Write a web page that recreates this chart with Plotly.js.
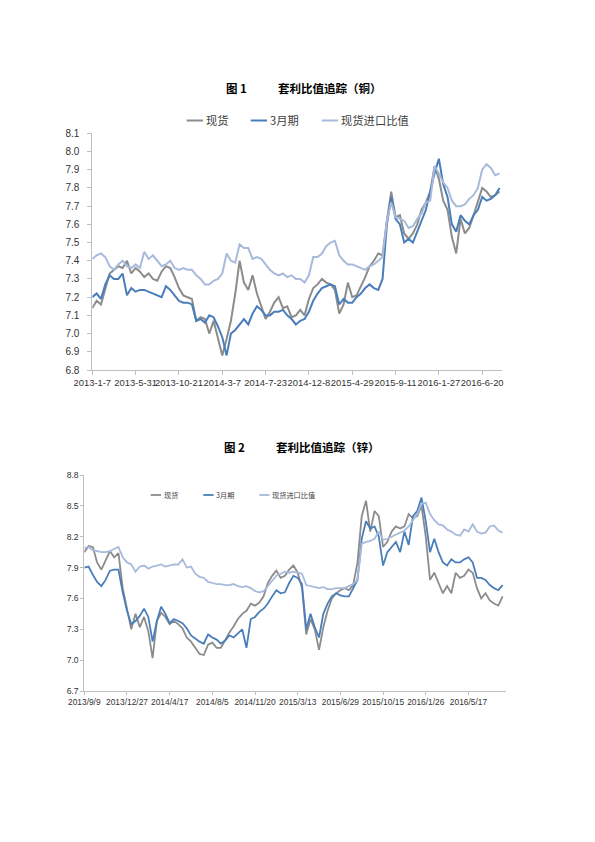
<!DOCTYPE html>
<html>
<head>
<meta charset="utf-8">
<script src="https://cdn.plot.ly/plotly-3.0.1.min.js"></script>
<style>
html, body { margin: 0; padding: 0; background: #fff; }
#chart { width: 595px; height: 842px; }
</style>
</head>
<body>
<div id="chart"></div>
<script>
// 图1 铜: one sample every tenth of a label interval
const cuTicks = ["2013-1-7", "2013-5-31", "2013-10-21", "2014-3-7", "2014-7-23",
    "2014-12-8", "2015-4-29", "2015-9-11", "2016-1-27", "2016-6-20"];
const cuSpot = [7.14, 7.18, 7.16, 7.25, 7.33, 7.35, 7.37, 7.36, 7.40, 7.33,
    7.36, 7.34, 7.31, 7.33, 7.30, 7.29, 7.34, 7.37, 7.36, 7.31,
    7.25, 7.21, 7.20, 7.19, 7.07, 7.09, 7.08, 7.00, 7.07, 6.98,
    6.88, 6.97, 7.07, 7.22, 7.40, 7.28, 7.24, 7.32, 7.22, 7.15,
    7.08, 7.12, 7.17, 7.20, 7.14, 7.15, 7.09, 7.10, 7.13, 7.10,
    7.19, 7.25, 7.27, 7.30, 7.28, 7.27, 7.24, 7.11, 7.16, 7.28,
    7.20, 7.21, 7.26, 7.31, 7.37, 7.40, 7.44, 7.43, 7.62, 7.78,
    7.64, 7.65, 7.55, 7.52, 7.55, 7.60, 7.68, 7.72, 7.78, 7.92,
    7.85, 7.73, 7.68, 7.53, 7.44, 7.63, 7.55, 7.58, 7.65, 7.73,
    7.80, 7.78, 7.75, 7.76, 7.78];
const cuMonth3 = [7.20, 7.22, 7.19, 7.27, 7.32, 7.30, 7.30, 7.33, 7.21, 7.25,
    7.23, 7.24, 7.24, 7.23, 7.22, 7.21, 7.20, 7.26, 7.24, 7.21,
    7.18, 7.17, 7.17, 7.16, 7.07, 7.08, 7.06, 7.10, 7.09, 7.04,
    6.98, 6.88, 7.00, 7.02, 7.05, 7.08, 7.05, 7.11, 7.15, 7.13,
    7.10, 7.10, 7.12, 7.12, 7.13, 7.10, 7.08, 7.05, 7.07, 7.08,
    7.12, 7.18, 7.22, 7.25, 7.26, 7.27, 7.26, 7.16, 7.19, 7.17,
    7.17, 7.20, 7.22, 7.25, 7.27, 7.25, 7.24, 7.30, 7.60, 7.75,
    7.63, 7.60, 7.50, 7.52, 7.50, 7.56, 7.62, 7.68, 7.78, 7.88,
    7.96, 7.82, 7.75, 7.60, 7.56, 7.65, 7.62, 7.60, 7.65, 7.68,
    7.75, 7.73, 7.74, 7.76, 7.80];
const cuImport = [7.41, 7.43, 7.44, 7.42, 7.37, 7.35, 7.38, 7.40, 7.37, 7.36,
    7.38, 7.36, 7.45, 7.41, 7.43, 7.40, 7.37, 7.38, 7.40, 7.36,
    7.35, 7.36, 7.35, 7.35, 7.32, 7.30, 7.27, 7.27, 7.29, 7.30,
    7.33, 7.44, 7.40, 7.39, 7.49, 7.47, 7.47, 7.41, 7.42, 7.41,
    7.38, 7.35, 7.33, 7.32, 7.33, 7.31, 7.32, 7.30, 7.30, 7.28,
    7.32, 7.42, 7.42, 7.44, 7.48, 7.50, 7.51, 7.43, 7.40, 7.38,
    7.38, 7.37, 7.36, 7.35, 7.37, 7.38, 7.40, 7.42, 7.62, 7.72,
    7.64, 7.63, 7.62, 7.58, 7.59, 7.63, 7.66, 7.72, 7.73, 7.92,
    7.88, 7.83, 7.80, 7.73, 7.70, 7.70, 7.71, 7.74, 7.76, 7.80,
    7.90, 7.93, 7.91, 7.87, 7.88];

// 图2 锌
const znTicks = ["2013/9/9", "2013/12/27", "2014/4/17", "2014/8/5", "2014/11/20",
    "2015/3/13", "2015/6/29", "2015/10/15", "2016/1/26", "2016/5/17"];
const znSpot = [8.05, 8.11, 8.10, 7.95, 7.88, 7.97, 8.06, 8.00, 8.04, 7.70,
    7.50, 7.30, 7.45, 7.32, 7.42, 7.28, 7.02, 7.38, 7.46, 7.42,
    7.35, 7.38, 7.35, 7.31, 7.22, 7.18, 7.12, 7.06, 7.05, 7.15,
    7.17, 7.12, 7.12, 7.20, 7.27, 7.33, 7.40, 7.45, 7.48, 7.55,
    7.53, 7.56, 7.62, 7.75, 7.82, 7.87, 7.80, 7.82, 7.88, 7.92,
    7.85, 7.70, 7.25, 7.40, 7.30, 7.10, 7.32, 7.48, 7.60, 7.65,
    7.68, 7.70, 7.68, 7.73, 7.95, 8.40, 8.55, 8.25, 8.45, 8.40,
    8.10, 8.15, 8.25, 8.30, 8.28, 8.30, 8.42, 8.38, 8.40, 8.50,
    8.20, 7.78, 7.85, 7.75, 7.65, 7.72, 7.65, 7.85, 7.80, 7.82,
    7.88, 7.85, 7.70, 7.60, 7.65, 7.58, 7.55, 7.53, 7.62];
const znMonth3 = [7.90, 7.91, 7.83, 7.76, 7.72, 7.78, 7.87, 7.88, 7.88, 7.66,
    7.48, 7.35, 7.38, 7.43, 7.50, 7.42, 7.18, 7.38, 7.52, 7.45,
    7.36, 7.40, 7.38, 7.36, 7.31, 7.24, 7.21, 7.18, 7.16, 7.25,
    7.22, 7.20, 7.16, 7.19, 7.24, 7.22, 7.26, 7.30, 7.12, 7.40,
    7.42, 7.47, 7.50, 7.55, 7.62, 7.68, 7.65, 7.66, 7.75, 7.82,
    7.80, 7.74, 7.30, 7.45, 7.32, 7.22, 7.45, 7.55, 7.62, 7.65,
    7.63, 7.62, 7.62, 7.70, 7.78, 8.18, 8.35, 8.28, 8.30, 8.20,
    7.92, 8.05, 8.10, 8.15, 8.05, 8.25, 8.12, 8.40, 8.45, 8.58,
    8.35, 8.05, 8.18, 8.05, 7.95, 7.92, 7.98, 7.95, 7.95, 7.98,
    8.00, 7.95, 7.80, 7.80, 7.78, 7.73, 7.70, 7.68, 7.73];
const znImport = [8.09, 8.10, 8.07, 8.06, 8.05, 8.05, 8.06, 8.08, 8.10, 8.00,
    7.95, 7.93, 7.86, 7.91, 7.92, 7.89, 7.91, 7.92, 7.93, 7.91,
    7.92, 7.93, 7.93, 7.98, 7.90, 7.91, 7.84, 7.81, 7.80, 7.76,
    7.75, 7.74, 7.74, 7.73, 7.73, 7.74, 7.72, 7.71, 7.72, 7.70,
    7.67, 7.66, 7.67, 7.72, 7.78, 7.82, 7.84, 7.86, 7.85, 7.86,
    7.85, 7.84, 7.73, 7.72, 7.71, 7.70, 7.71, 7.69, 7.69, 7.70,
    7.70, 7.70, 7.72, 7.74, 7.78, 8.13, 8.15, 8.16, 8.18, 8.25,
    8.17, 8.18, 8.20, 8.22, 8.24, 8.26, 8.30, 8.36, 8.42, 8.52,
    8.53, 8.42, 8.36, 8.32, 8.31, 8.27, 8.25, 8.22, 8.21, 8.27,
    8.25, 8.32, 8.25, 8.23, 8.24, 8.30, 8.31, 8.26, 8.24];

const seriesNames = ["现货", "3月期", "现货进口比值"];
const seriesColors = ["#8c8c8c", "#4a7ebb", "#a8badc"];

const W = 595, H = 842;
const px = (x) => x / W;
const py = (y) => 1 - y / H;

const idx = (arr) => arr.map((_, i) => i);
const tickPos = (labels) => labels.map((_, i) => i * 10);

const makeTraces = (values, xa, ya, width) => {
    return values.map((v, i) => ({
        x: idx(v),
        y: v,
        type: "scatter",
        mode: "lines",
        name: seriesNames[i],
        line: {color: seriesColors[i], width: width},
        xaxis: xa,
        yaxis: ya,
        showlegend: false,
        hoverinfo: "skip"
    }));
};

const traces = [
    ...makeTraces([cuSpot, cuMonth3, cuImport], "x", "y", 2),
    ...makeTraces([znSpot, znMonth3, znImport], "x2", "y2", 1.8)
];

const cjk = "Noto Sans CJK SC, sans-serif";

// legend drawn by hand: short line sample followed by the name
const legendParts = (starts, lineLen, y, fontSize, lineW) => {
    const shapes = [];
    const notes = [];
    starts.forEach((x0, i) => {
        shapes.push({type: "line", xref: "paper", yref: "paper",
            x0: px(x0), x1: px(x0 + lineLen), y0: py(y), y1: py(y),
            line: {color: seriesColors[i], width: lineW}});
        notes.push({text: seriesNames[i], xref: "paper", yref: "paper",
            x: px(x0 + lineLen + 0.5), y: py(y), xanchor: "left", yanchor: "middle",
            showarrow: false, font: {family: cjk, size: fontSize, color: "#404040"}});
    });
    return [shapes, notes];
};

const [lg1Shapes, lg1Notes] = legendParts([186.7, 250.7, 321.7], 16.3, 120.5, 11.3, 2);
const [lg2Shapes, lg2Notes] = legendParts([150.7, 203.3, 259.3], 10.3, 495, 7.2, 1.8);

const axisLine = "#bfbfbf";
const tickFont = (size) => ({family: "Liberation Sans, Arial, sans-serif", size: size, color: "#333"});

const baseAxis = {
    showgrid: false,
    zeroline: false,
    showline: true,
    linecolor: axisLine,
    linewidth: 1,
    ticks: "outside",
    tickcolor: axisLine,
    ticklen: 4,
    fixedrange: true
};

const titles = [
    {text: "<b>图 1</b>", x: 236, y: 88},
    {text: "<b>套利比值追踪（铜）</b>", x: 330, y: 88},
    {text: "<b>图 2</b>", x: 234, y: 447},
    {text: "<b>套利比值追踪（锌）</b>", x: 328, y: 447}
].map((a) => ({text: a.text, x: px(a.x), y: py(a.y), xref: "paper", yref: "paper",
    showarrow: false, xanchor: "center", yanchor: "middle",
    font: {family: cjk, size: 11.5, color: "#000"}}));

const layout = {
    width: W,
    height: H,
    margin: {l: 0, r: 0, t: 0, b: 0},
    paper_bgcolor: "#fff",
    plot_bgcolor: "#fff",
    showlegend: false,
    xaxis: {...baseAxis, domain: [px(92.3), px(501.7)], range: [0, 94.5],
        tickvals: tickPos(cuTicks), ticktext: cuTicks, tickfont: tickFont(9.4),
        anchor: "y", tickangle: 0},
    yaxis: {...baseAxis, domain: [py(370), py(133.3)], range: [6.8, 8.1],
        tick0: 6.8, dtick: 0.1, tickformat: ".1f", tickfont: tickFont(10),
        anchor: "x", ticklabelstandoff: 6},
    xaxis2: {...baseAxis, domain: [px(84.3), px(506)], range: [0, 98.8],
        tickvals: tickPos(znTicks), ticktext: znTicks, tickfont: tickFont(8.4),
        anchor: "y2", tickangle: 0, ticklen: 3},
    yaxis2: {...baseAxis, domain: [py(691), py(475)], range: [6.7, 8.8],
        tick0: 6.7, dtick: 0.3, tickformat: ".1f", tickfont: tickFont(8.6),
        anchor: "x2", ticklen: 3},
    shapes: [...lg1Shapes, ...lg2Shapes],
    annotations: [...titles, ...lg1Notes, ...lg2Notes]
};

const plotConfig = {responsive: false, displayModeBar: false, staticPlot: true};
Plotly.newPlot("chart", traces, layout, plotConfig);
</script>
</body>
</html>
